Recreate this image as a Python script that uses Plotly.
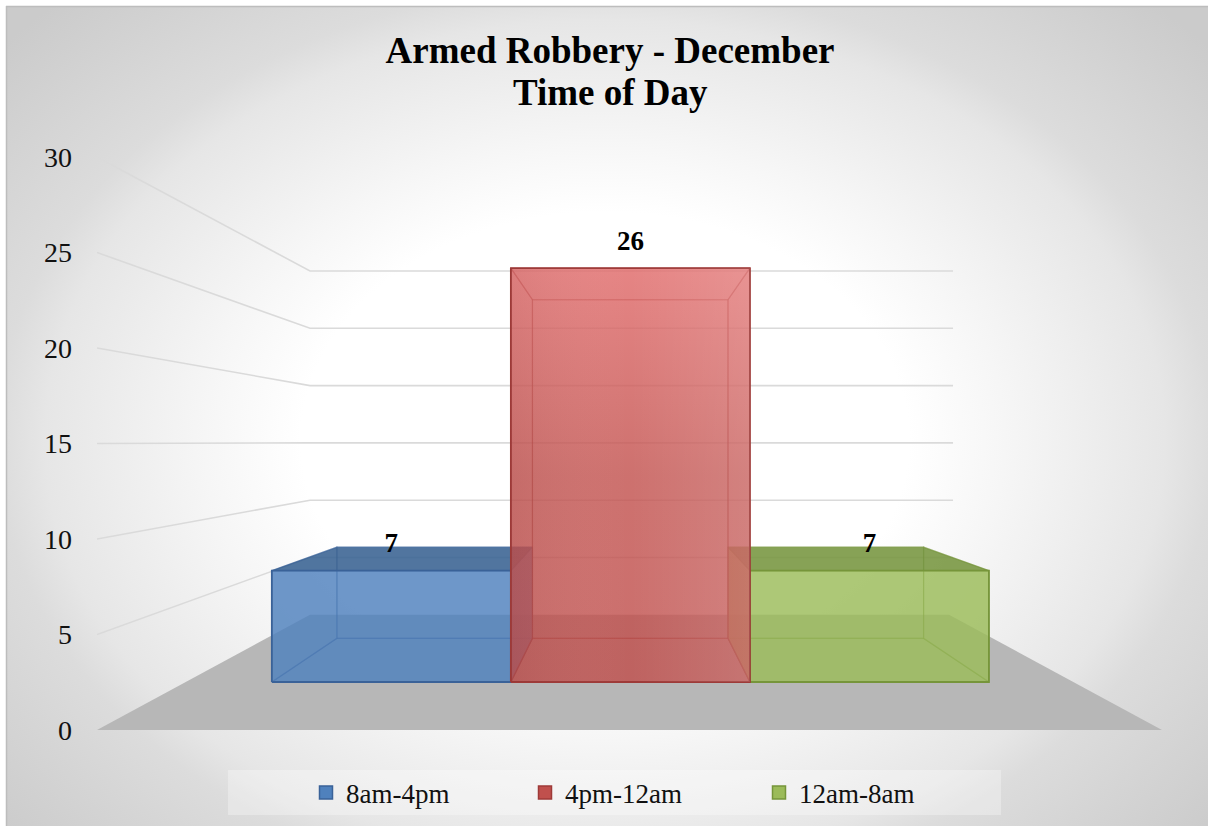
import plotly.graph_objects as go

TITLE_LINE1 = "Armed Robbery - December"
TITLE_LINE2 = "Time of Day"
SERIES = ["8am-4pm", "4pm-12am", "12am-8am"]
VALUES = [7, 26, 7]
TICKS = [0, 5, 10, 15, 20, 25, 30]
FILL = ["#4F81BD", "#C0504D", "#9BBB59"]
TOPC = ["#375E8B", "#C0504D", "#728F3D"]
TOPA = [0.74, 0.58, 0.74]
EDGE = ["#3A6298", "#9E3A38", "#76953A"]
SERIF = "Liberation Serif"

W, H = 1208, 826
# 3D model of the chart box, in value / category / depth units
K = 2 / 3            # perspective strength
VP_V = 15.08         # value level of the horizon
N_CAT = 3.0
BAR_W = 0.808
BAR_SHIFT = 0.003
GRID_RIGHT = 3.019
Z_F, Z_B = 0.3, 0.7


def rgba(hex_color, alpha):
    r, g, b = int(hex_color[1:3], 16), int(hex_color[3:5], 16), int(hex_color[5:7], 16)
    return f"rgba({r},{g},{b},{alpha})"


def proj(c, v, z):
    s = 1 / (1 + K * z)
    return N_CAT / 2 + s * (c - N_CAT / 2), VP_V + s * (v - VP_V)


def quad(pts):
    p = [proj(*q) for q in pts]
    p.append(p[0])
    return [a for a, _ in p], [b for _, b in p]


fig = go.Figure()

# background
CX, CY, RX, RY = 605, 440, 800, 600
fig.add_trace(go.Scatter(
    x=[CX - RX, CX + RX, CX + RX, CX - RX, CX - RX],
    y=[CY - RY, CY - RY, CY + RY, CY + RY, CY - RY],
    mode="none", fill="toself", showlegend=False, hoverinfo="skip",
    fillgradient=dict(type="radial", colorscale=[
        [0, "#ffffff"], [0.38, "#ffffff"], [0.5, "#f6f6f6"], [0.7, "#e6e6e6"],
        [0.76, "#dcdcdc"], [1, "#cbcbcb"]]),
    xaxis="x", yaxis="y"))


def add(xs, ys, **kw):
    fig.add_trace(go.Scatter(x=xs, y=ys, showlegend=False, hoverinfo="skip",
                             xaxis="x2", yaxis="y2", **kw))


def face(pts, fill, edge, alpha=0.58, ew=1.2, grad=None):
    xs, ys = quad(pts)
    kw = dict(mode="lines", fill="toself", line=dict(color=edge, width=ew))
    if grad:
        kw["fillgradient"] = grad
    else:
        kw["fillcolor"] = rgba(fill, alpha)
    add(xs, ys, **kw)


# floor
xs, ys = quad([(0, 0, 0), (N_CAT, 0, 0), (N_CAT, 0, 1), (0, 0, 1)])
add(xs, ys, mode="none", fill="toself", fillcolor="#b7b7b7")

# gridlines: back wall and left wall
for t in TICKS[1:]:
    xs, ys = zip(*[proj(0, t, 0), proj(0, t, 1), proj(GRID_RIGHT, t, 1)])
    add(list(xs), list(ys), mode="lines", line=dict(color="#dadada", width=1.6))

# bars: the tallest is drawn last, over its neighbours
RED_GRAD = dict(type="vertical", colorscale=[
    [0, "rgba(192,80,77,0.58)"], [0.5, "rgba(196,84,80,0.58)"], [1, "rgba(238,118,118,0.58)"]])
SHEEN = dict(type="horizontal", colorscale=[
    [0, "rgba(90,30,30,0.07)"], [0.5, "rgba(255,255,255,0)"], [1, "rgba(255,255,255,0.12)"]])
x0 = N_CAT / 2 - BAR_W * len(VALUES) / 2 + BAR_SHIFT
for i in sorted(range(len(VALUES)), key=lambda k: VALUES[k]):
    val = VALUES[i]
    a, b = x0 + i * BAR_W, x0 + (i + 1) * BAR_W
    f, e, tc = FILL[i], EDGE[i], TOPC[i]
    ie = rgba(e, 0.45)
    tallest = val == max(VALUES)
    face([(a, 0, Z_B), (b, 0, Z_B), (b, val, Z_B), (a, val, Z_B)], f, ie, 0.58)   # back
    face([(a, 0, Z_F), (b, 0, Z_F), (b, 0, Z_B), (a, 0, Z_B)], f, ie, 0.58)       # bottom
    face([(a, 0, Z_F), (a, 0, Z_B), (a, val, Z_B), (a, val, Z_F)], f, ie, 0.58)   # left
    face([(b, 0, Z_F), (b, 0, Z_B), (b, val, Z_B), (b, val, Z_F)], f, ie, 0.58)   # right
    face([(a, val, Z_F), (b, val, Z_F), (b, val, Z_B), (a, val, Z_B)], tc, ie, TOPA[i])  # top
    face([(a, 0, Z_F), (b, 0, Z_F), (b, val, Z_F), (a, val, Z_F)], f, e, 0.58, ew=1.8,
         grad=RED_GRAD if tallest else None)                                      # front
    if tallest:
        sx, sy = quad([(a, 0, Z_F), (b, 0, Z_F), (b, val, Z_F), (a, val, Z_F)])
        add(sx, sy, mode="none", fill="toself", fillgradient=SHEEN)

# data labels
LABEL_LIFT = 1.57
lx, ly = [], []
for i, val in enumerate(VALUES):
    c = x0 + (i + 0.5) * BAR_W
    p = proj(c, val + LABEL_LIFT, Z_F)
    lx.append(p[0])
    ly.append(p[1])
fig.add_trace(go.Scatter(x=lx, y=ly, text=[str(v) for v in VALUES], mode="text",
                         textposition="middle center", showlegend=False, hoverinfo="skip",
                         textfont=dict(family=SERIF, size=27, color="#000000"),
                         texttemplate="<b>%{text}</b>", xaxis="x2", yaxis="y2"))

# legend entries
LEG_X = [306, 525, 759]
names = ["legend", "legend2", "legend3"]
for i, s in enumerate(SERIES):
    fig.add_trace(go.Scatter(x=[None], y=[None], name=s, mode="markers", legend=names[i],
                             marker=dict(symbol="square", size=13, color=FILL[i],
                                         line=dict(color=EDGE[i], width=1.5)),
                             xaxis="x2", yaxis="y2"))
leg = {}
for i, n in enumerate(names):
    leg[n] = dict(x=LEG_X[i] / W, y=1 - 793 / H, xanchor="left", yanchor="middle",
                  bgcolor="rgba(0,0,0,0)", font=dict(family=SERIF, size=27, color="#111111"))

fig.update_layout(
    width=W, height=H, margin=dict(l=0, r=0, t=0, b=0, autoexpand=False), paper_bgcolor="#ffffff",
    plot_bgcolor="rgba(0,0,0,0)", autosize=False,
    title=dict(text=f"<b>{TITLE_LINE1}</b>", x=610 / W, y=1 - 50 / H, xanchor="center", yanchor="middle",
               font=dict(family=SERIF, size=37, color="#000000")),
    annotations=[dict(text=f"<b>{TITLE_LINE2}</b>", xref="paper", yref="paper", x=610 / W, y=1 - 93 / H,
                      xanchor="center", yanchor="middle", showarrow=False,
                      font=dict(family=SERIF, size=37, color="#000000"))],
    xaxis=dict(domain=[6 / W, 1], range=[6, W], visible=False, fixedrange=True),
    yaxis=dict(domain=[0, 1 - 6 / H], range=[H, 6], visible=False, fixedrange=True),
    xaxis2=dict(domain=[97 / W, 1162 / W], range=[0, N_CAT], visible=False, anchor="y2"),
    yaxis2=dict(domain=[(H - 730) / H, (H - 157) / H], range=[0, 30], anchor="x2",
                tickvals=TICKS, showgrid=False, zeroline=False, showline=False, ticks="",
                ticklabelstandoff=24, tickfont=dict(family=SERIF, size=28, color="#111111")),
    shapes=[
        dict(type="rect", xref="paper", yref="paper", x0=228 / W, x1=1001 / W, y0=1 - 815 / H, y1=1 - 770 / H,
             fillcolor="rgba(255,255,255,0.3)", line=dict(width=0), layer="above"),
        dict(type="line", xref="paper", yref="paper", x0=6 / W, x1=1, y0=1 - 6.5 / H, y1=1 - 6.5 / H,
             line=dict(color="#bdbdbd", width=1.5)),
        dict(type="line", xref="paper", yref="paper", x0=6.5 / W, x1=6.5 / W, y0=0, y1=1 - 6 / H,
             line=dict(color="#bdbdbd", width=1.5)),
    ],
    **leg,
)
fig.write_html("out.html", post_script="document.body.style.margin='0';",
               config={"displayModeBar": False})
